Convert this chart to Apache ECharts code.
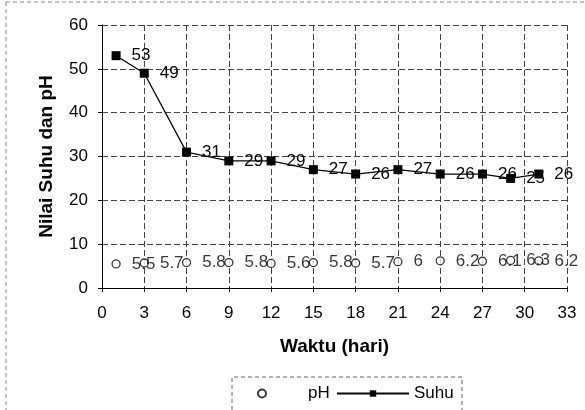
<!DOCTYPE html>
<html>
<head>
<meta charset="utf-8">
<script src="https://cdn.jsdelivr.net/npm/echarts@6/dist/echarts.min.js"></script>
<style>
  html, body { margin: 0; padding: 0; background: #fff; }
  #chart { width: 585px; height: 410px; }
</style>
</head>
<body>
<div id="chart"></div>
<script>
// Measurement days
const days = [1, 3, 6, 9, 12, 15, 18, 21, 24, 27, 29, 31];
// Temperature (Suhu) per day
const suhu = [53, 49, 31, 29, 29, 27, 26, 27, 26, 26, 25, 26];
// pH per day
const ph = [5.5, 5.7, 5.8, 5.8, 5.6, 5.8, 5.7, 6, 6.2, 6.1, 6.3, 6.2];

const FONT = 'Arial, "Liberation Sans", sans-serif';
const INK = '#050505';
const gridLine = { show: true, lineStyle: { color: '#444', type: [6, 3], width: 1 } };

const chart = echarts.init(document.getElementById('chart'), null, { renderer: 'canvas' });

chart.setOption({
  backgroundColor: '#fff',
  animation: false,
  textStyle: { fontFamily: FONT, color: INK },
  grid: { left: 102, right: 18, top: 25, bottom: 122 },
  xAxis: {
    type: 'value',
    min: 0, max: 33, interval: 3,
    name: 'Waktu (hari)',
    nameLocation: 'middle',
    nameGap: 49,
    nameTextStyle: { fontFamily: FONT, fontWeight: 'bold', fontSize: 19, color: INK, verticalAlign: 'top' },
    axisLine: { show: true, lineStyle: { color: INK, width: 1 } },
    axisTick: { show: true, inside: false, length: 4, lineStyle: { color: INK } },
    axisLabel: { fontSize: 17, color: INK, margin: 17, fontFamily: FONT },
    splitLine: gridLine
  },
  yAxis: {
    type: 'value',
    min: 0, max: 60, interval: 10,
    name: 'Nilai Suhu dan pH',
    nameLocation: 'middle',
    nameGap: 46,
    nameRotate: 90,
    nameTextStyle: { fontFamily: FONT, fontWeight: 'bold', fontSize: 19, color: INK },
    axisLine: { show: true, lineStyle: { color: INK, width: 1 } },
    axisTick: { show: true, inside: false, length: 4, lineStyle: { color: INK } },
    axisLabel: { fontSize: 17, color: INK, margin: 14, fontFamily: FONT },
    splitLine: gridLine
  },
  legend: [
    {
      data: ['pH'],
      left: 252, top: 380,
      itemWidth: 22, itemHeight: 8,
      textStyle: { fontSize: 17, color: INK, fontFamily: FONT, padding: [0, 0, 0, 30] }
    },
    {
      data: ['Suhu'],
      left: 331, top: 380,
      itemWidth: 72, itemHeight: 8,
      textStyle: { fontSize: 17, color: INK, fontFamily: FONT }
    }
  ],
  series: [
    {
      name: 'pH',
      type: 'scatter',
      data: days.map((d, i) => [d, ph[i]]),
      symbol: 'circle',
      symbolSize: 8,
      itemStyle: { color: '#fff', borderColor: INK, borderWidth: 1.3 },
      label: {
        show: true, position: 'right', distance: 11,
        formatter: p => String(p.value[1]),
        fontSize: 17, color: INK, fontFamily: FONT
      },
      labelLayout: { hideOverlap: false },
      z: 3
    },
    {
      name: 'Suhu',
      type: 'line',
      data: days.map((d, i) => [d, suhu[i]]),
      symbol: 'rect',
      symbolSize: 9,
      lineStyle: { color: INK, width: 1.3 },
      itemStyle: { color: INK },
      label: {
        show: true, position: 'right', distance: 11,
        formatter: p => String(p.value[1]),
        fontSize: 17, color: INK, fontFamily: FONT
      },
      labelLayout: { hideOverlap: false },
      z: 4
    }
  ],
  graphic: [
    // page frame edges
    { type: 'line', shape: { x1: 6, y1: 2, x2: 6, y2: 410 }, style: { stroke: '#888', lineDash: [4, 3], lineWidth: 1 } },
    { type: 'line', shape: { x1: 6, y1: 2, x2: 585, y2: 2 }, style: { stroke: '#888', lineDash: [4, 3], lineWidth: 1 } },
    // legend frame
    { type: 'polyline', shape: { points: [[232, 410], [232, 377], [462, 377], [462, 410]] }, style: { fill: null, stroke: '#666', lineDash: [4, 3], lineWidth: 1 } }
  ]
});
</script>
</body>
</html>
